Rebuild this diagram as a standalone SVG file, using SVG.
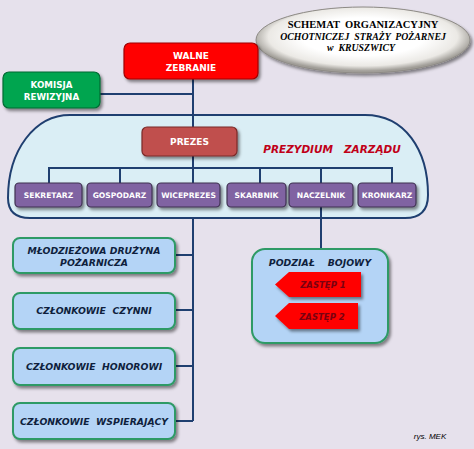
<svg xmlns="http://www.w3.org/2000/svg" width="474" height="449" viewBox="0 0 474 449">
<defs>
<filter id="sh" x="-20%" y="-20%" width="150%" height="160%">
<feDropShadow dx="2" dy="2.5" stdDeviation="1.5" flood-color="#000" flood-opacity="0.45"/>
</filter>
<radialGradient id="ell" cx="50%" cy="45%" r="52%">
<stop offset="0.55" stop-color="#ffffff"/>
<stop offset="0.85" stop-color="#ebe9e5"/>
<stop offset="1" stop-color="#a09d97"/>
</radialGradient>
</defs>
<style>
.w{font-family:"DejaVu Sans",Verdana,sans-serif;font-weight:bold;fill:#fff;text-anchor:middle}
.b{font-family:"DejaVu Sans",Verdana,sans-serif;font-weight:bold;font-style:italic;fill:#0f1f3d;text-anchor:middle;font-size:9.3px}
.t{font-family:"Liberation Serif","Times New Roman",serif;font-weight:bold;fill:#000;text-anchor:middle}
.con{stroke:#1f3f70;stroke-width:2;fill:none}
.purple{fill:#8064a2;stroke:#3f3151;stroke-width:1.2}
.lb{fill:#b4d4f6;stroke:#2e9a66;stroke-width:2}
</style>
<rect width="474" height="449" fill="#e6e1ec"/>
<g id="title">
<ellipse cx="363" cy="40" rx="107" ry="33" fill="url(#ell)" stroke="#8d8a85" stroke-width="1" filter="url(#sh)"/>
<text class="t" x="363" y="28" font-size="10.5" xml:space="preserve">SCHEMAT  ORGANIZACYJNY</text>
<text class="t" x="363" y="40" font-size="9.8" font-style="italic" xml:space="preserve">OCHOTNICZEJ  STRAŻY  POŻARNEJ</text>
<text class="t" x="361" y="51" font-size="9.8" font-style="italic" xml:space="preserve">w  KRUSZWICY</text>
</g>
<g id="prezydium">
<path d="M 70,115 L 365,115 C 405,115 428,150 428,195 Q 428,218 405,218 L 30,218 Q 8,218 8,198 C 8,150 35,115 70,115 Z" fill="#daeef5" stroke="#1f3f70" stroke-width="2"/>
<text x="332" y="153" font-family="DejaVu Sans,Verdana,sans-serif" font-weight="bold" font-style="italic" font-size="10.5" fill="#c00018" text-anchor="middle" xml:space="preserve">PREZYDIUM   ZARZĄDU</text>
</g>
<g id="connectors">
<path class="con" d="M193,79 V127"/>
<path class="con" d="M100,94 H193"/>
<path class="con" d="M193,156 V183"/>
<path class="con" d="M49,183 V168 H392 V183"/>
<path class="con" d="M120,168 V183 M260,168 V183 M321,168 V183"/>
<path class="con" d="M321,207 V249"/>
<path class="con" d="M193,218 V421"/>
<path class="con" d="M175,255 H193 M175,310 H193 M175,366 H193 M175,421 H193"/>
</g>
<g id="walne">
<rect x="124" y="43" width="134" height="36" rx="6" fill="#ff0000" stroke="#a00000" stroke-width="1.2" filter="url(#sh)"/>
<text class="w" x="191" y="59" font-size="9">WALNE</text>
<text class="w" x="191" y="71" font-size="9">ZEBRANIE</text>
</g>
<g id="komisja">
<rect x="3" y="72" width="97" height="36" rx="6" fill="#00a550" stroke="#006b33" stroke-width="1.2" filter="url(#sh)"/>
<text class="w" x="51.5" y="88" font-size="8.7">KOMISJA</text>
<text class="w" x="51.5" y="100" font-size="8.7">REWIZYJNA</text>
</g>
<g id="prezes">
<rect x="142" y="127" width="95" height="29" rx="5" fill="#c0504d" stroke="#7a2a28" stroke-width="1.2" filter="url(#sh)"/>
<text class="w" x="189.5" y="145" font-size="9">PREZES</text>
</g>
<g id="sekretarz">
<rect class="purple" x="15" y="183" width="67" height="24" rx="4" filter="url(#sh)"/>
<text class="w" x="48.5" y="198" font-size="7.6">SEKRETARZ</text>
</g>
<g id="gospodarz">
<rect class="purple" x="87" y="183" width="65" height="24" rx="4" filter="url(#sh)"/>
<text class="w" x="119.5" y="198" font-size="7.6">GOSPODARZ</text>
</g>
<g id="wiceprezes">
<rect class="purple" x="157" y="183" width="63" height="24" rx="4" filter="url(#sh)"/>
<text class="w" x="188.5" y="198" font-size="7.6">WICEPREZES</text>
</g>
<g id="skarbnik">
<rect class="purple" x="227" y="183" width="59" height="24" rx="4" filter="url(#sh)"/>
<text class="w" x="256.5" y="198" font-size="7.6">SKARBNIK</text>
</g>
<g id="naczelnik">
<rect class="purple" x="289" y="183" width="64" height="24" rx="4" filter="url(#sh)"/>
<text class="w" x="321" y="198" font-size="7.6">NACZELNIK</text>
</g>
<g id="kronikarz">
<rect class="purple" x="358" y="183" width="58" height="24" rx="4" filter="url(#sh)"/>
<text class="w" x="387" y="198" font-size="7.6">KRONIKARZ</text>
</g>
<g id="mlodziezowa">
<rect class="lb" x="13" y="238" width="162" height="35" rx="7" filter="url(#sh)"/>
<text class="b" x="94" y="254">MŁODZIEŻOWA DRUŻYNA</text>
<text class="b" x="94" y="266">POŻARNICZA</text>
</g>
<g id="czynni">
<rect class="lb" x="13" y="293" width="162" height="36" rx="7" filter="url(#sh)"/>
<text class="b" x="94" y="314" xml:space="preserve">CZŁONKOWIE  CZYNNI</text>
</g>
<g id="honorowi">
<rect class="lb" x="13" y="348" width="162" height="37" rx="7" filter="url(#sh)"/>
<text class="b" x="94" y="370" xml:space="preserve">CZŁONKOWIE  HONOROWI</text>
</g>
<g id="wspierajacy">
<rect class="lb" x="13" y="403" width="162" height="36" rx="7" filter="url(#sh)"/>
<text class="b" x="94" y="425" xml:space="preserve">CZŁONKOWIE  WSPIERAJĄCY</text>
</g>
<g id="podzial">
<rect class="lb" x="252" y="249" width="136" height="94" rx="13" filter="url(#sh)"/>
<text class="b" x="320" y="266" xml:space="preserve">PODZIAŁ    BOJOWY</text>
</g>
<g id="zastep1">
<polygon points="289,272 361,272 361,297 289,297 275,284.5" fill="#ff0000" filter="url(#sh)"/>
<text x="323" y="288" font-family="DejaVu Sans,Verdana,sans-serif" font-weight="bold" font-style="italic" font-size="8.5" fill="#7a0010" text-anchor="middle">ZASTĘP 1</text>
</g>
<g id="zastep2">
<polygon points="289,303 358,303 358,329 289,329 275,316" fill="#ff0000" filter="url(#sh)"/>
<text x="322" y="320" font-family="DejaVu Sans,Verdana,sans-serif" font-weight="bold" font-style="italic" font-size="8.5" fill="#7a0010" text-anchor="middle">ZASTĘP 2</text>
</g>
<text x="430" y="439" font-family="Liberation Sans,Arial,sans-serif" font-style="italic" font-size="8" fill="#000" text-anchor="middle">rys. MEK</text>
</svg>
